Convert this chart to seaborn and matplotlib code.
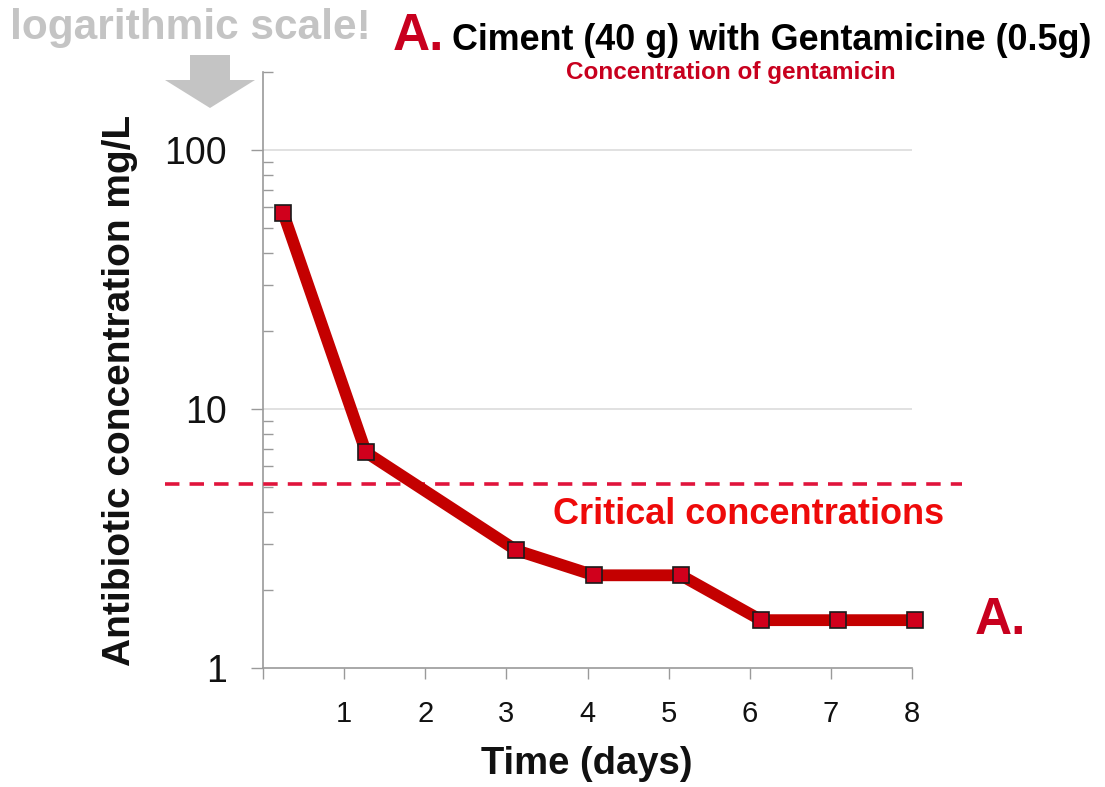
import matplotlib
matplotlib.use("Agg")
import matplotlib.pyplot as plt
import matplotlib.ticker as mticker
from matplotlib.patches import Polygon
import seaborn as sns
import pandas as pd
import numpy as np

# ---- data ----
time_days = [0.25, 1.27, 3.12, 4.08, 5.15, 6.14, 7.09, 8.04]
concentration = [57.0, 6.8, 2.85, 2.28, 2.28, 1.53, 1.53, 1.53]
critical_value = 5.13
x_ticks = [0, 1, 2, 3, 4, 5, 6, 7, 8]
x_ticklabels = ["", "1", "2", "3", "4", "5", "6", "7", "8"]
y_ticks = [1, 10, 100]
y_ticklabels = ["1", "10", "100"]

sns.set_theme(style="white")
plt.rcParams["font.family"] = ["Liberation Sans", "DejaVu Sans"]

W, H = 1105, 787
fig = plt.figure(figsize=(W / 100, H / 100), dpi=100)
ax = fig.add_axes([263 / W, 1 - 668 / H, (912 - 263) / W, (668 - 72) / H])

df = pd.DataFrame({"t": time_days, "c": concentration})
sns.lineplot(data=df, x="t", y="c", ax=ax, color="#c40000", linewidth=8.5,
             marker="s", markersize=12, markerfacecolor="#d0001c",
             markeredgecolor="#1a1a1a", markeredgewidth=1.2, zorder=5)
for ln in ax.get_lines():
    ln.set_clip_on(False)

ax.set_yscale("log")
ax.set_ylim(1, 200)
ax.set_xlim(0, 8)

ax.set_xticks(x_ticks)
ax.set_xticklabels(x_ticklabels)
ax.set_yticks(y_ticks)
ax.set_yticklabels(y_ticklabels)
ax.yaxis.set_minor_locator(mticker.LogLocator(base=10, subs=np.arange(2, 10)))
ax.yaxis.set_minor_formatter(mticker.NullFormatter())

ax.tick_params(axis="x", which="major", direction="out", length=8, width=1,
               color="#9a9a9a", labelsize=21, pad=15, bottom=True, labelcolor="#111111")
ax.tick_params(axis="y", which="major", direction="out", length=9, width=1,
               color="#9a9a9a", labelsize=27, pad=17, left=True, labelcolor="#111111")
ax.tick_params(axis="y", which="minor", direction="in", length=7, width=1,
               color="#9a9a9a", left=True)

ax.grid(False)
for v in [10, 100]:
    ax.axhline(v, color="#dcdcdc", linewidth=1.2, zorder=0)

for s in ["top", "right"]:
    ax.spines[s].set_visible(False)
for s in ["left", "bottom"]:
    ax.spines[s].set_color("#9a9a9a")
    ax.spines[s].set_linewidth(1.2)

# critical concentration dashed line (extends beyond axes)
ax.axhline(critical_value, xmin=(165 - 263) / 649, xmax=(962 - 263) / 649,
           color="#e0143c", linewidth=2.6, dashes=(4, 2.8), clip_on=False, zorder=3)

ax.set_xlabel("Time (days)", fontsize=27.5, fontweight="bold", color="#111111")
ax.set_ylabel("Antibiotic concentration mg/L", fontsize=28, fontweight="bold", color="#111111")
ax.xaxis.set_label_coords((587 - 263) / 649, -(746 - 668) / 596)
ax.yaxis.set_label_coords(-(263 - 138) / 649, (668 - 390) / 596)

# texts
fig.text(10 / W, 1 - 28 / H, "logarithmic scale!", fontsize=30.5, fontweight="bold",
         color="#c4c4c4", ha="left", va="center")
fig.text(393 / W, 1 - 36 / H, "A.", fontsize=37, fontweight="bold",
         color="#c8001e", ha="left", va="center")
fig.text(452 / W, 1 - 40 / H, "Ciment (40 g) with Gentamicine (0.5g)", fontsize=25.8,
         fontweight="bold", color="black", ha="left", va="center")
fig.text(731 / W, 1 - 73 / H, "Concentration of gentamicin", fontsize=17.5,
         fontweight="bold", color="#c8001e", ha="center", va="center")
fig.text(749 / W, 1 - 514 / H, "Critical concentrations", fontsize=26,
         fontweight="bold", color="#ee0a0a", ha="center", va="center")
fig.text(975 / W, 1 - 620 / H, "A.", fontsize=37, fontweight="bold",
         color="#c8001e", ha="left", va="center")

# gray down arrow
pts = [(190, 55), (230, 55), (230, 80), (255, 80), (210, 108), (165, 80), (190, 80)]
arrow = Polygon([(x / W, 1 - y / H) for x, y in pts], closed=True,
                transform=fig.transFigure, facecolor="#c4c4c4", edgecolor="none")
fig.patches.append(arrow)

fig.savefig("out.png", dpi=100)
